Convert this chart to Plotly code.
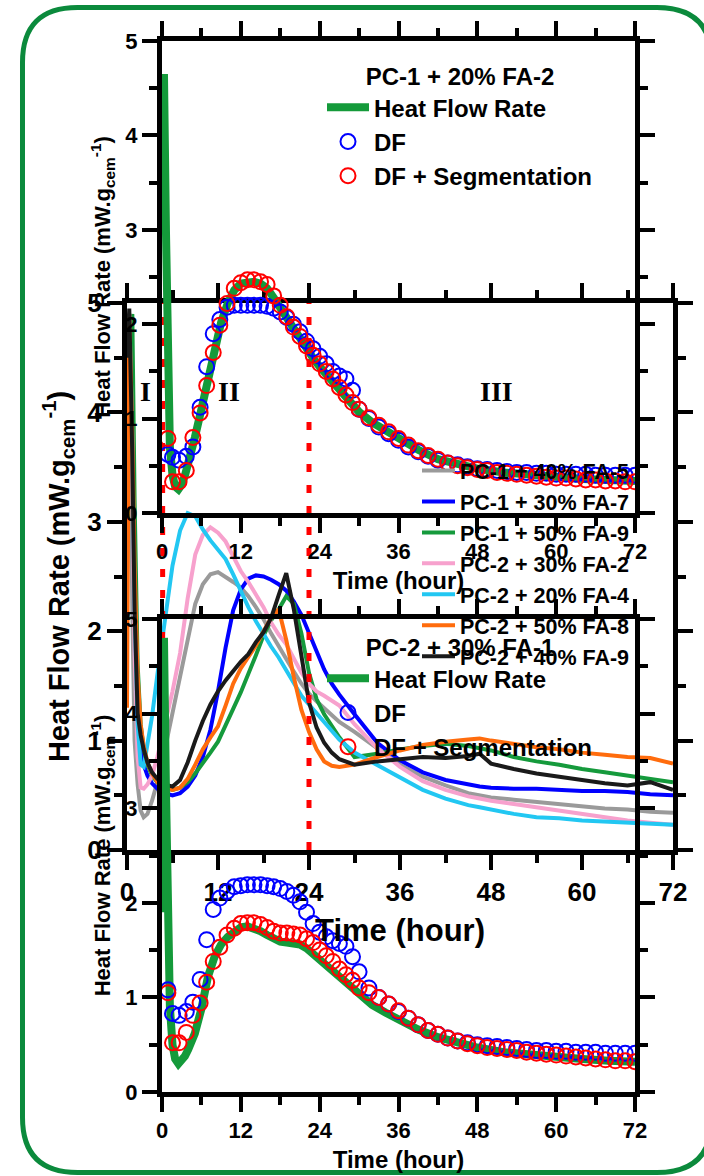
import plotly.graph_objects as go

W, H = 704, 1176
def PX(x): return x / W
def PY(y): return 1 - y / H

FONT = "Liberation Sans, Arial, sans-serif"
SERIF = "Liberation Serif, Times New Roman, serif"

# ---------------- data: middle chart (7 mixes) ----------------
mix_time = [0, 0.3, 0.7, 1.0, 1.4, 1.8, 2.2, 2.7, 3.3, 4,
            5, 6, 7, 8, 9, 10, 11, 12, 13, 14, 15, 16, 17, 18, 19, 20, 21, 22, 23, 24, 25, 26, 27, 28,
            30, 33, 36, 39, 42, 45, 46.5, 48, 51, 54, 57, 60, 63, 66, 69, 72]
mix_names = ["PC-1 + 40% FA-5", "PC-1 + 30% FA-7", "PC-1 + 50% FA-9", "PC-2 + 30% FA-2",
             "PC-2 + 20% FA-4", "PC-2 + 50% FA-8", "PC-2 + 40% FA-9"]
pc1_fa40 = [2.5, 4.8, 2.2, 1.0, 0.6, 0.36, 0.30, 0.33, 0.45, 0.62,
            0.92, 1.25, 1.6, 1.95, 2.25, 2.43, 2.52, 2.54, 2.5, 2.45, 2.40, 2.32, 2.22, 2.11, 1.98, 1.86, 1.74, 1.63, 1.52, 1.43, 1.36, 1.30, 1.23, 1.17,
            1.08, 0.93, 0.78, 0.67, 0.59, 0.52, 0.50, 0.48, 0.46, 0.44, 0.42, 0.40, 0.38, 0.37, 0.35, 0.34]
pc1_fa30 = [3.0, 4.85, 3.8, 2.4, 1.4, 0.95, 0.78, 0.68, 0.61, 0.56,
            0.52, 0.50, 0.52, 0.58, 0.68, 0.85, 1.1, 1.45, 1.85, 2.19, 2.38, 2.48, 2.51, 2.5, 2.47, 2.43, 2.37, 2.27, 2.15, 1.98, 1.80, 1.65, 1.52, 1.42,
            1.24, 0.98, 0.82, 0.71, 0.64, 0.60, 0.58, 0.57, 0.56, 0.56, 0.55, 0.54, 0.54, 0.53, 0.51, 0.50]
pc1_fa50 = [3.5, 4.7, 4.9, 3.2, 1.7, 1.15, 0.92, 0.78, 0.68, 0.62,
            0.57, 0.55, 0.57, 0.62, 0.70, 0.79, 0.89, 0.99, 1.13, 1.29, 1.44, 1.60, 1.78, 1.96, 2.10, 2.20, 2.32, 2.25, 1.98, 1.62, 1.38, 1.24, 1.13, 1.03,
            0.85, 0.88, 0.92, 0.95, 0.97, 0.95, 0.93, 0.91, 0.85, 0.81, 0.78, 0.74, 0.71, 0.68, 0.65, 0.62]
pc2_fa30 = [4.4, 4.9, 3.5, 1.8, 0.85, 0.57, 0.56, 0.60, 0.68, 0.85,
            1.15, 1.45, 1.8, 2.3, 2.7, 2.88, 2.95, 2.9, 2.82, 2.68, 2.55, 2.45, 2.33, 2.22, 2.08, 1.97, 1.88, 1.74, 1.62, 1.52, 1.45, 1.41, 1.37, 1.32,
            1.15, 0.93, 0.76, 0.63, 0.55, 0.49, 0.47, 0.45, 0.42, 0.39, 0.36, 0.33, 0.30, 0.27, 0.25, 0.23]
pc2_fa20 = [3.2, 4.9, 3.8, 2.2, 1.15, 0.78, 0.76, 0.95, 1.22, 1.6,
            2.1, 2.6, 2.92, 3.08, 3.05, 2.93, 2.83, 2.74, 2.66, 2.52, 2.36, 2.22, 2.09, 1.97, 1.86, 1.76, 1.64, 1.52, 1.41, 1.33, 1.25, 1.17, 1.08, 1.01,
            0.89, 0.78, 0.67, 0.55, 0.47, 0.41, 0.39, 0.37, 0.33, 0.30, 0.29, 0.27, 0.26, 0.25, 0.24, 0.23]
pc2_fa50 = [1.3, 4.9, 3.8, 2.6, 1.6, 1.15, 0.95, 0.8, 0.7, 0.62,
            0.57, 0.55, 0.57, 0.65, 0.78, 0.92, 1.03, 1.13, 1.32, 1.52, 1.66, 1.76, 1.87, 2.0, 2.12, 2.2, 1.92, 1.58, 1.28, 1.08, 0.92, 0.81, 0.77, 0.76,
            0.78, 0.85, 0.91, 0.96, 0.99, 1.01, 1.02, 1.0, 0.97, 0.94, 0.92, 0.89, 0.87, 0.85, 0.84, 0.79]
pc2_fa40 = [4.5, 4.95, 3.6, 2.2, 1.25, 1.05, 0.92, 0.8, 0.71, 0.65,
            0.6, 0.58, 0.64, 0.8, 1.0, 1.18, 1.33, 1.45, 1.55, 1.64, 1.72, 1.79, 1.9, 1.99, 2.12, 2.33, 2.53, 2.2, 1.78, 1.35, 1.12, 0.98, 0.89, 0.83,
            0.78, 0.81, 0.83, 0.85, 0.84, 0.86, 0.88, 0.79, 0.74, 0.70, 0.67, 0.64, 0.61, 0.59, 0.62, 0.55]
mix_values = [pc1_fa40, pc1_fa30, pc1_fa50, pc2_fa30, pc2_fa20, pc2_fa50, pc2_fa40]
mix_colors = ["#9a9a9a", "#0000ff", "#159a3c", "#f7a1cd", "#22c7f2", "#ff6c0d", "#1a1a1a"]
phase_boundaries = [4.7, 24]
phase_labels = ["I", "II", "III"]

# ---------------- data: top / bottom charts ----------------
hf_time = [0, 0.3, 0.6, 0.9, 1.2, 1.6, 2.0, 2.5, 3.0, 3.5,
           4, 5, 6, 7, 8, 9, 10, 11, 12, 13, 14, 15, 16, 17, 18, 19, 20, 21, 22, 23, 24,
           26, 28, 30, 32, 34, 36, 39, 42, 45, 48, 52, 56, 60, 64, 68, 72]
hf_pc1_fa2 = [3.0, 4.65, 3.0, 1.5, 0.7, 0.4, 0.28, 0.25, 0.3, 0.4,
              0.52, 0.8, 1.1, 1.42, 1.75, 2.02, 2.22, 2.36, 2.43, 2.45, 2.45, 2.43, 2.38, 2.28, 2.17, 2.05, 1.94, 1.84, 1.74, 1.64, 1.55,
              1.38, 1.22, 1.07, 0.96, 0.87, 0.78, 0.67, 0.57, 0.51, 0.47, 0.43, 0.40, 0.38, 0.36, 0.35, 0.34]
hf_pc2_fa1 = [1.9, 4.8, 3.2, 1.8, 0.9, 0.5, 0.35, 0.30, 0.33, 0.38,
              0.45, 0.62, 0.88, 1.22, 1.43, 1.56, 1.64, 1.70, 1.74, 1.75, 1.73, 1.70, 1.66, 1.62, 1.59, 1.58, 1.58, 1.56, 1.52, 1.46, 1.40,
              1.27, 1.14, 1.02, 0.92, 0.84, 0.76, 0.66, 0.58, 0.52, 0.47, 0.42, 0.39, 0.37, 0.35, 0.33, 0.32]

df_time = [0.9, 1.6, 2.6, 3.7, 4.7, 5.8, 6.8, 7.8, 8.8, 9.9,
           11, 12, 13, 14, 15, 16, 17, 18, 19, 20, 21, 22, 23, 24, 25, 26, 27, 28, 29, 30,
           31.5, 33, 34.5, 36, 37.5, 39, 40.5, 42, 43.5, 45, 46.5, 48, 49.5, 51, 52.5, 54, 55.5, 57, 58.5, 60,
           61.5, 63, 64.5, 66, 67.5, 69, 70.5, 72]
df_pc1_fa2 = [0.62, 0.59, 0.56, 0.60, 0.70, 1.12, 1.55, 1.90, 2.05, 2.18,
              2.20, 2.20, 2.20, 2.20, 2.20, 2.19, 2.17, 2.13, 2.07, 2.00, 1.92, 1.82, 1.74, 1.66, 1.58, 1.50, 1.45, 1.42, 1.30, 1.10,
              1.00, 0.91, 0.84, 0.77, 0.70, 0.65, 0.60, 0.56, 0.53, 0.51, 0.49, 0.47, 0.46, 0.45, 0.44, 0.43, 0.43, 0.42, 0.42, 0.41,
              0.41, 0.41, 0.41, 0.40, 0.40, 0.40, 0.40, 0.40]
dfseg_pc1_fa2 = [0.79, 0.33, 0.33, 0.45, 0.80, 1.06, 1.35, 1.70, 1.99, 2.22,
                 2.38, 2.44, 2.47, 2.47, 2.45, 2.42, 2.30, 2.20, 2.08, 1.97, 1.87, 1.77, 1.67, 1.58, 1.50, 1.42, 1.33, 1.25, 1.17, 1.10,
                 1.01, 0.93, 0.86, 0.79, 0.72, 0.66, 0.61, 0.57, 0.53, 0.50, 0.48, 0.46, 0.45, 0.43, 0.42, 0.41, 0.40, 0.39, 0.38, 0.37,
                 0.37, 0.36, 0.35, 0.35, 0.34, 0.34, 0.33, 0.33]
df_pc2_fa1 = [1.08, 0.83, 0.81, 0.85, 0.95, 1.19, 1.61, 1.93, 2.05, 2.12,
              2.17, 2.18, 2.19, 2.19, 2.19, 2.18, 2.17, 2.15, 2.12, 2.08, 2.01, 1.90, 1.78, 1.69, 1.64, 1.60, 1.57, 1.54, 1.43, 1.27,
              1.10, 1.00, 0.93, 0.85, 0.78, 0.71, 0.65, 0.61, 0.57, 0.54, 0.52, 0.50, 0.49, 0.48, 0.47, 0.46, 0.45, 0.44, 0.44, 0.43,
              0.43, 0.42, 0.42, 0.42, 0.41, 0.41, 0.41, 0.41]
dfseg_pc2_fa1 = [1.05, 0.52, 0.52, 0.63, 0.81, 0.94, 1.16, 1.38, 1.53, 1.66,
                 1.73, 1.78, 1.79, 1.79, 1.77, 1.74, 1.70, 1.68, 1.68, 1.67, 1.66, 1.62, 1.58, 1.50, 1.44, 1.38, 1.30, 1.24, 1.18, 1.10,
                 1.05, 1.00, 0.93, 0.86, 0.78, 0.71, 0.65, 0.61, 0.57, 0.54, 0.51, 0.49, 0.47, 0.46, 0.45, 0.44, 0.42, 0.41, 0.40, 0.39,
                 0.38, 0.37, 0.36, 0.35, 0.34, 0.33, 0.33, 0.32]

x_ticks = [0, 12, 24, 36, 48, 60, 72]
y_title = "Heat Flow Rate (mW.g<sub>cem</sub><sup>-1</sup>)"

fig = go.Figure()

# ---- middle chart (xy) ----
for name, vals, col in zip(mix_names, mix_values, mix_colors):
    fig.add_trace(go.Scatter(x=mix_time, y=vals, mode="lines", name=name,
                             line=dict(color=col, width=4), xaxis="x", yaxis="y", legend="legend"))
for b in phase_boundaries:
    fig.add_trace(go.Scatter(x=[b, b], y=[0, 5], mode="lines", showlegend=False, hoverinfo="skip",
                             line=dict(color="#ff0000", width=5, dash="8px,13px"), xaxis="x", yaxis="y"))

# ---- bottom chart (x2y2) and top chart (x3y3) ----
for (ax, leg, hf, df, dfs) in [("2", "legend2", hf_pc2_fa1, df_pc2_fa1, dfseg_pc2_fa1),
                               ("3", "legend3", hf_pc1_fa2, df_pc1_fa2, dfseg_pc1_fa2)]:
    fig.add_trace(go.Scatter(x=hf_time, y=hf, mode="lines", name="Heat Flow Rate",
                             line=dict(color="#149a3a", width=8), xaxis="x" + ax, yaxis="y" + ax,
                             legend=leg, legendgroup=leg + "a"))
    fig.add_trace(go.Scatter(x=df_time, y=df, mode="markers", name="DF",
                             marker=dict(symbol="circle-open", size=15, color="#0000ff", line=dict(width=2)),
                             xaxis="x" + ax, yaxis="y" + ax, legend=leg, legendgroup=leg + "b"))
    fig.add_trace(go.Scatter(x=df_time, y=dfs, mode="markers", name="DF + Segmentation",
                             marker=dict(symbol="circle-open", size=15, color="#ff0000", line=dict(width=2)),
                             xaxis="x" + ax, yaxis="y" + ax, legend=leg, legendgroup=leg + "c"))


def axis(domain, rng, dtick, mdtick, fs, title, tfs, standoff, anchor, tickvals=None):
    d = dict(domain=domain, range=rng, dtick=dtick, tick0=0, ticks="outside", ticklen=15, tickwidth=4,
             tickcolor="black", showline=True, linewidth=5, linecolor="black", mirror="allticks",
             showgrid=False, zeroline=False, anchor=anchor, automargin=False,
             tickfont=dict(family=FONT, size=fs, color="black", weight="bold"),
             minor=dict(dtick=mdtick, tick0=0, ticks="outside", ticklen=8, tickwidth=4, tickcolor="black",
                        showgrid=False),
             title=dict(text=title, font=dict(family=FONT, size=tfs, color="black", weight="bold"),
                        standoff=standoff))
    if tickvals is not None:
        d["tickmode"] = "array"
        d["tickvals"] = tickvals
    return d

dB_x = [PX(127), PX(673)]
dB_y = [PY(850), PY(303)]
dA_x = [PX(162), PX(635)]
dA_y = [PY(513), PY(41)]
dC_y = [PY(1092), PY(619)]

leg_common = dict(bgcolor="rgba(0,0,0,0)", xanchor="left", yanchor="top", borderwidth=0,
                  tracegroupgap=0)
leg_font = dict(family=FONT, size=24, color="black", weight="bold")

fig.update_layout(
    width=W, height=H, autosize=False,
    margin=dict(l=0, r=0, t=0, b=0, pad=0, autoexpand=False),
    paper_bgcolor="white", plot_bgcolor="rgba(0,0,0,0)",
    font=dict(family=FONT, color="black"),
    xaxis=axis(dB_x, [0, 72], 12, 6, 26, "Time (hour)", 31, 15, "y", x_ticks),
    yaxis=axis(dB_y, [0, 5], 1, 0.5, 26, y_title, 29, 11, "x"),
    xaxis2=axis(dA_x, [0, 72], 12, 6, 22, "Time (hour)", 24, 10, "y2", x_ticks),
    yaxis2=axis(dC_y, [0, 5], 1, 0.5, 22, y_title, 22, 10, "x2"),
    xaxis3=axis(dA_x, [0, 72], 12, 6, 22, "Time (hour)", 24, 10, "y3", x_ticks),
    yaxis3=axis(dA_y, [0, 5], 1, 0.5, 22, y_title, 22, 10, "x3"),
    legend=dict(x=PX(417), y=PY(450), font=dict(family=FONT, size=21.5, color="black", weight="bold"),
                itemwidth=33, **leg_common),
    legend2=dict(x=PX(322), y=PY(625), font=leg_font, itemwidth=42,
                 title=dict(text="PC-2 + 30% FA-1", side="top center", font=leg_font),
                 **leg_common),
    legend3=dict(x=PX(322), y=PY(54), font=leg_font, itemwidth=42,
                 title=dict(text="PC-1 + 20% FA-2", side="top center", font=leg_font),
                 **leg_common),
    showlegend=True,
)

# phase labels on the middle chart
for lab, xpos in zip(phase_labels, [2.5, 13.5, 48.7]):
    fig.add_annotation(x=xpos, y=4.19, xref="x", yref="y", text=lab, showarrow=False,
                       font=dict(family=SERIF, size=28, color="black", weight="bold"))

# rounded green frame
L, T, R, B, r = 22.5, 7.5, 712, 1172.5, 55
def P(x, y): return f"{PX(x):.5f},{PY(y):.5f}"
path = (f"M{P(L + r, T)} L{P(R - r, T)} Q{P(R, T)} {P(R, T + r)} L{P(R, B - r)} "
        f"Q{P(R, B)} {P(R - r, B)} L{P(L + r, B)} Q{P(L, B)} {P(L, B - r)} L{P(L, T + r)} "
        f"Q{P(L, T)} {P(L + r, T)} Z")
fig.add_shape(type="path", path=path, xref="paper", yref="paper",
              line=dict(color="#0b8a3c", width=5), layer="below")

fig.write_html("out.html")
